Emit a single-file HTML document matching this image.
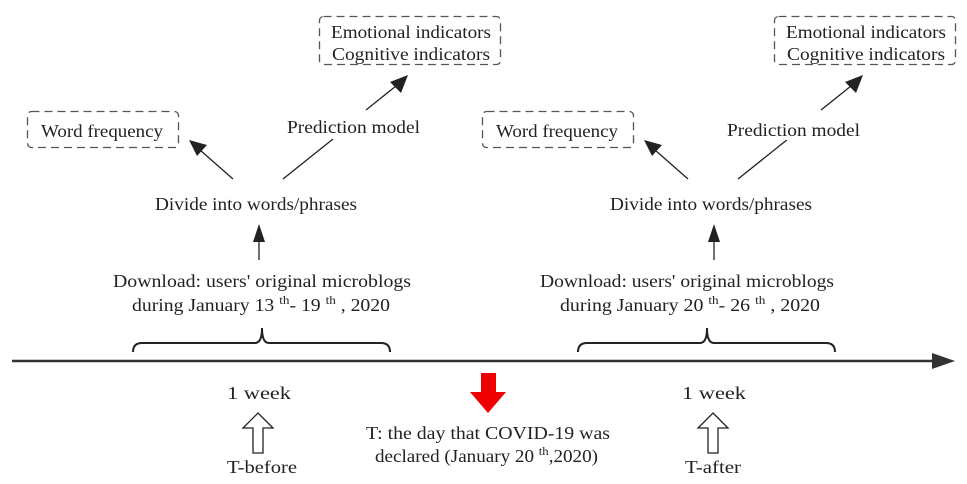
<!DOCTYPE html>
<html><head><meta charset="utf-8"><style>
html,body{margin:0;padding:0;background:#fff;}
svg{display:block;}
text{font-family:"Liberation Serif",serif;font-size:18px;fill:#222;}
.sup{font-size:12px;}
</style></head><body>
<svg width="967" height="484" viewBox="0 0 967 484" xmlns="http://www.w3.org/2000/svg">
<defs>
<g id="grp">
  <rect x="27.5" y="111.5" width="151" height="36" rx="4" fill="none" stroke="#555" stroke-width="1.3" stroke-dasharray="8,5"/>
  <text x="41" y="137" textLength="122" lengthAdjust="spacingAndGlyphs">Word frequency</text>
  <rect x="319.5" y="16.5" width="181" height="48" rx="4" fill="none" stroke="#555" stroke-width="1.3" stroke-dasharray="8,5"/>
  <text x="331" y="38" textLength="160" lengthAdjust="spacingAndGlyphs">Emotional indicators</text>
  <text x="332" y="60" textLength="158" lengthAdjust="spacingAndGlyphs">Cognitive indicators</text>
  <text x="155" y="210" textLength="202" lengthAdjust="spacingAndGlyphs">Divide into words/phrases</text>
  <line x1="233" y1="179" x2="200" y2="150" stroke="#222" stroke-width="1.3"/>
  <polygon points="189,140 207,145 197,156" fill="#222"/>
  <line x1="283" y1="179" x2="333" y2="139" stroke="#222" stroke-width="1.3"/>
  <line x1="366" y1="110" x2="396" y2="86" stroke="#222" stroke-width="1.3"/>
  <polygon points="408,75 401,93 390,82" fill="#222"/>
  <line x1="259" y1="260" x2="259" y2="240" stroke="#222" stroke-width="1.3"/>
  <polygon points="259,224 253,242 265,242" fill="#222"/>
  <text x="227" y="399" textLength="64" lengthAdjust="spacingAndGlyphs">1 week</text>
  <polygon points="258,413 273,428 263,428 263,453 253,453 253,428 243,428" fill="#fff" stroke="#222" stroke-width="1.3"/>
</g>
<path id="brace" d="M133,352 Q133,343 142,343 L255,343 Q262,343 262,328 Q262,343 269,343 L381,343 Q390,343 390,352" fill="none" stroke="#222" stroke-width="2"/>
</defs>
<use href="#grp"/>
<use href="#grp" transform="translate(455,0)"/>
<use href="#brace"/>
<use href="#brace" transform="translate(445,0)"/>
<text x="287" y="133" textLength="133" lengthAdjust="spacingAndGlyphs">Prediction model</text>
<rect x="740" y="115" width="140" height="25" fill="#fff"/>
<text x="727" y="136" textLength="133" lengthAdjust="spacingAndGlyphs">Prediction model</text>
<text x="113" y="287" textLength="298" lengthAdjust="spacingAndGlyphs">Download: users' original microblogs</text>
<text x="132" y="311" textLength="258" lengthAdjust="spacingAndGlyphs">during January 13 <tspan class="sup" dy="-7">th</tspan><tspan dy="7">- 19 </tspan><tspan class="sup" dy="-7">th</tspan><tspan dy="7"> , 2020</tspan></text>
<text x="540" y="287" textLength="294" lengthAdjust="spacingAndGlyphs">Download: users' original microblogs</text>
<text x="560" y="311" textLength="260" lengthAdjust="spacingAndGlyphs">during January 20 <tspan class="sup" dy="-7">th</tspan><tspan dy="7">- 26 </tspan><tspan class="sup" dy="-7">th</tspan><tspan dy="7"> , 2020</tspan></text>
<line x1="12" y1="361" x2="936" y2="361" stroke="#333" stroke-width="2.5"/>
<polygon points="955,361 932,353 932,369" fill="#333"/>
<polygon points="481,373 496,373 496,392 506,392 488,413 470,392 481,392" fill="#e00"/>
<text x="366" y="439" textLength="244" lengthAdjust="spacingAndGlyphs">T: the day that COVID-19 was</text>
<text x="375" y="462" textLength="223" lengthAdjust="spacingAndGlyphs">declared (January 20 <tspan class="sup" dy="-7">th</tspan><tspan dy="7">,2020)</tspan></text>
<text x="227" y="473" textLength="70" lengthAdjust="spacingAndGlyphs">T-before</text>
<text x="685" y="473" textLength="56" lengthAdjust="spacingAndGlyphs">T-after</text>
</svg>
</body></html>
